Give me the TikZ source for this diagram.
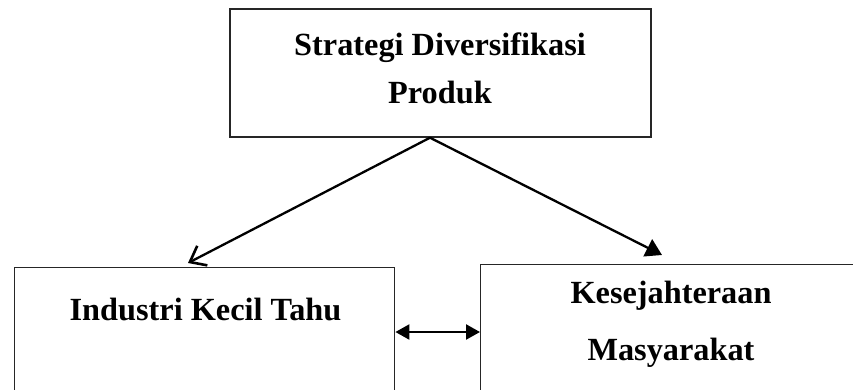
\documentclass[tikz,border=0pt]{standalone}
\usepackage{fontspec}
\setmainfont{Liberation Serif}
\usetikzlibrary{arrows.meta,calc}
\begin{document}
\begin{tikzpicture}[x=1pt,y=-1pt,
  boxstyle/.style={draw=black!85,line width=1.4pt,inner sep=0pt},
  lbl/.style={anchor=base,inner sep=0pt,font=\fontsize{32.3}{38}\selectfont\bfseries},
  conn/.style={line width=2.3pt}]
\useasboundingbox (0,0) rectangle (853,389);
\clip (0,0) rectangle (853,389);
% boxes
\node[boxstyle,minimum width=421pt,minimum height=128pt] (top) at (440.5,73) {};
\node[boxstyle,minimum width=380pt,minimum height=150pt,anchor=north west] (L) at (14,267) {};
\node[boxstyle,minimum width=400pt,minimum height=150pt,anchor=north west] (R) at (480,264) {};
% texts
\node[lbl] (t1) at (440,55) {Strategi Diversifikasi};
\node[lbl] (t2) at (440,103) {Produk};
\node[lbl] (t3) at (205.5,320) {Industri Kecil Tahu};
\node[lbl] (t4) at (671,303) {Kesejahteraan};
\node[lbl] (t5) at (671,360) {Masyarakat};
% connectors
\coordinate (s) at ($(top.south)+(-10.5,0)$);
\coordinate (lt) at (188,263);
\coordinate (rt) at (662,255);
\coordinate (m) at (0,332);
\draw[conn,-{Straight Barb[length=14pt,width=22pt,line width=2.6pt]}] (s) -- (lt);
\draw[conn,-{Triangle[length=16pt,width=19pt]}] (s) -- (rt);
\draw[conn,{Triangle[length=14pt,width=15pt]}-{Triangle[length=14pt,width=15pt]}] (L.east |- m) -- (R.west |- m);
\end{tikzpicture}
\end{document}
